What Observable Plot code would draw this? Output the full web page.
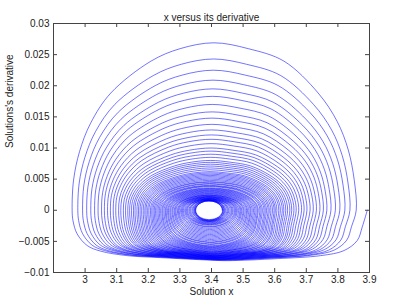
<!DOCTYPE html>
<html><head><meta charset="utf-8">
<script src="https://cdn.jsdelivr.net/npm/d3@7"></script>
<script src="https://cdn.jsdelivr.net/npm/@observablehq/plot@0.6"></script>
<style>body{margin:0;background:#fff}</style>
</head><body><div id="chart"></div>
<script>
// Tick labels
const xTicks = [3, 3.1, 3.2, 3.3, 3.4, 3.5, 3.6, 3.7, 3.8, 3.9];
const yTicks = [-0.01, -0.005, 0, 0.005, 0.01, 0.015, 0.02, 0.025, 0.03];

// Trajectory start (x, derivative = 0)
const startX = 3.893;
// Per-loop extremes (left turning x, peak derivative, right turning x, bottom derivative)
const leftX = [2.959,2.977,2.992,3.005,3.018,3.030,3.041,3.052,3.061,3.071,3.080,3.089,3.097,3.106,3.113,3.121,3.128,3.135,3.141,
  3.147,3.153,3.158,3.164,3.169,3.174,3.179,3.184,3.189,3.193,3.198,3.202,3.207,3.211,3.215,3.219,3.223,3.227,3.231,3.235,3.239,
  3.243,3.246,3.250,3.254,3.257,3.261,3.264,3.268,3.271,3.275,3.278,3.282,3.285,3.288,3.292,3.295,3.298,3.302,3.305,3.308,
  3.311,3.315,3.318,3.321,3.324,3.328,3.331,3.334,3.338,3.341,3.344,3.346,3.348,3.349,3.350];
const topY = [0.0269,0.0243,0.0225,0.0209,0.0195,0.0183,0.0170,0.0158,0.0148,0.0138,0.0129,0.0121,0.0114,0.0107,0.0100,0.0095,0.0090,0.0085,0.0080,0.0077,
  0.0074,0.0071,0.0068,0.0065,0.0062,0.0060,0.0058,0.0056,0.0054,0.0052,0.0050,0.0048,0.0046,0.0045,0.0043,0.0042,0.0040,0.0039,0.0038,0.0036,
  0.0035,0.0034,0.0033,0.0032,0.0031,0.0030,0.0029,0.0028,0.0027,0.0026,0.0025,0.0024,0.0024,0.0023,0.0022,0.0022,0.0021,0.0021,0.0020,0.0020,
  0.0019,0.0019,0.0018,0.0018,0.0018,0.0017,0.0017,0.0017,0.0016,0.0016,0.0016,0.0016,0.0015,0.0015,0.0015];
const rightX = [3.858,3.838,3.822,3.806,3.792,3.778,3.765,3.754,3.743,3.732,3.722,3.712,3.702,3.693,3.685,3.676,3.668,3.661,3.654,3.648,
  3.641,3.635,3.629,3.624,3.618,3.613,3.607,3.602,3.598,3.593,3.588,3.583,3.579,3.574,3.570,3.566,3.561,3.557,3.553,3.548,
  3.545,3.541,3.537,3.533,3.529,3.525,3.522,3.518,3.514,3.511,3.507,3.503,3.500,3.496,3.493,3.490,3.486,3.482,3.479,3.476,
  3.473,3.469,3.466,3.463,3.459,3.455,3.452,3.449,3.445,3.442,3.440,3.438,3.436,3.435,3.434];
const bottomY = [-0.0081,-0.0080,-0.0080,-0.0079,-0.0079,-0.0079,-0.0078,-0.0078,-0.0078,-0.0077,-0.0077,-0.0077,-0.0076,-0.0076,-0.0076,-0.0075,-0.0075,-0.0075,-0.0074,-0.0074,
  -0.0074,-0.0073,-0.0073,-0.0073,-0.0072,-0.0072,-0.0071,-0.0071,-0.0070,-0.0070,-0.0069,-0.0069,-0.0068,-0.0067,-0.0067,-0.0066,-0.0065,-0.0064,-0.0063,-0.0062,
  -0.0061,-0.0060,-0.0059,-0.0058,-0.0057,-0.0055,-0.0054,-0.0052,-0.0051,-0.0049,-0.0047,-0.0045,-0.0043,-0.0041,-0.0039,
  -0.0037,-0.0035,-0.0033,-0.0031,-0.0029,-0.0027,-0.0026,-0.0024,-0.0023,-0.0022,-0.0021,-0.0020,-0.0019,-0.0018,-0.0018,-0.0017,-0.0017,-0.0016,-0.0016,-0.0015];

// Loop shapes: outer loop, inner one from the central (elliptical) hole
const topU = [0, 0.005, 0.026, 0.065, 0.136, 0.277, 0.38, 0.499, 0.62, 0.746, 0.866, 0.933, 0.972, 0.993, 1];
const topV = [0, 0.18, 0.35, 0.52, 0.70, 0.89, 0.965, 1, 0.965, 0.89, 0.70, 0.53, 0.36, 0.18, 0];
const topVInner = [0, 0.141, 0.318, 0.493, 0.686, 0.895, 0.971, 1, 0.971, 0.870, 0.681, 0.5, 0.33, 0.167, 0];
const botU = [0, 0.017, 0.034, 0.079, 0.158, 0.305, 0.474, 0.531, 0.700, 0.814, 0.904, 0.949, 0.983, 0.997, 1];
const botV = [0, 0.33, 0.60, 0.80, 0.90, 0.96, 1, 0.99, 0.94, 0.90, 0.81, 0.70, 0.47, 0.21, 0];
const botVInner = [0, 0.259, 0.362, 0.539, 0.73, 0.921, 0.999, 0.998, 0.917, 0.778, 0.589, 0.44, 0.259, 0.11, 0];

function half(x0, x1, amp, U, V, Vin, w, skipFirst) {
  const out = [];
  for (let i = skipFirst ? 1 : 0; i < U.length; i++) {
    const v = V[i] * (1 - w) + Vin[i] * w;
    out.push({x: x0 + U[i] * (x1 - x0), y: v * amp});
  }
  return out;
}
const blend = j => Math.min(1, Math.max(0, (j - 25) / 35));
const pts = [];
pts.push(...half(startX, leftX[0], bottomY[0], botU, botV, botVInner, 0, false));
for (let j = 0; j < leftX.length; j++) {
  pts.push(...half(leftX[j], rightX[j], topY[j], topU, topV, topVInner, blend(j), true));
  if (j + 1 < leftX.length) pts.push(...half(rightX[j], leftX[j + 1], bottomY[j + 1], botU, botV, botVInner, blend(j + 0.5), true));
}

const fmt = d => (d < 0 ? "\u2212" : "") + String(Math.abs(d));
const chart = Plot.plot({
  width: 407, height: 306,
  marginLeft: 53, marginRight: 38, marginTop: 23, marginBottom: 34,
  x: {domain: [2.9, 3.9]},
  y: {domain: [-0.01, 0.03]},
  style: {fontFamily: "'Liberation Sans', Arial, sans-serif", fontSize: "10px", background: "white", color: "#222"},
  marks: [
    Plot.line(pts, {x: "x", y: "y", stroke: "#0000ff", strokeWidth: 0.55, curve: "catmull-rom"}),
    Plot.frame({stroke: "#444"}),
    Plot.tickX(xTicks, {x: d => d, insetTop: 245, stroke: "#444"}),
    Plot.tickX(xTicks, {x: d => d, insetBottom: 245, stroke: "#444"}),
    Plot.tickY(yTicks, {y: d => d, insetLeft: 312, stroke: "#444"}),
    Plot.tickY(yTicks, {y: d => d, insetRight: 312, stroke: "#444"}),
    Plot.axisX(xTicks, {tickSize: 0, tickPadding: 3, tickFormat: fmt, label: null}),
    Plot.axisY(yTicks, {tickSize: 0, tickPadding: 4, tickFormat: fmt, label: null}),
    Plot.text(["x versus its derivative"], {frameAnchor: "top", dy: -10, fontSize: 10}),
    Plot.text(["Solution x"], {frameAnchor: "bottom", dy: 22, fontSize: 10}),
    Plot.text(["Solutions's derivative"], {frameAnchor: "left", dx: -44, rotate: -90, fontSize: 10})
  ]
});
document.getElementById("chart").append(chart);
</script></body></html>
